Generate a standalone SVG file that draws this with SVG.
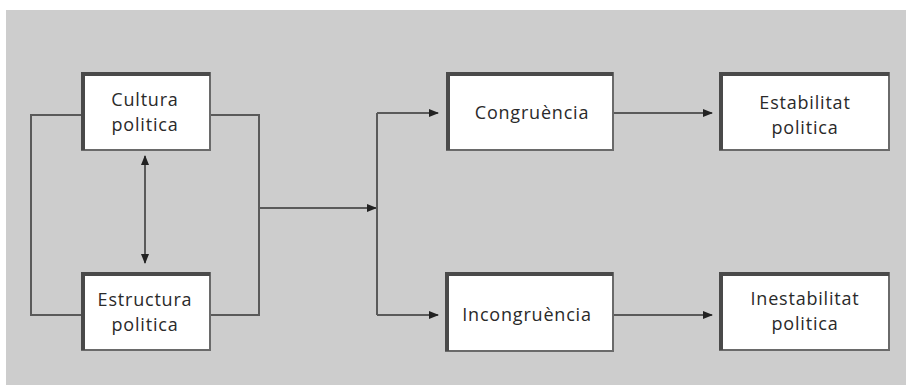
<svg xmlns="http://www.w3.org/2000/svg" width="906" height="385" viewBox="0 0 906 385">
<style>
.box{fill:#ffffff;stroke:#6a6a6a;stroke-width:2}
.edge{fill:none;stroke:#4a4a4a;stroke-width:4}
.t{font-family:"Open Sans","Noto Sans","Liberation Sans",sans-serif;font-size:18px;letter-spacing:0.8px;fill:#2a2a2a;text-anchor:middle}
.c{fill:none;stroke:#5a5a5a;stroke-width:2}
</style>
<defs>
<marker id="ah" viewBox="0 0 10 10" refX="9" refY="5" markerWidth="5" markerHeight="5" orient="auto-start-reverse" markerUnits="strokeWidth">
<path d="M0,1 L10,5 L0,9 z" fill="#222222"/>
</marker>
</defs>
<rect x="0" y="0" width="906" height="385" fill="#ffffff"/>
<rect x="6" y="10" width="900" height="375" fill="#cdcdcd"/>
<g id="connectors">
<path class="c" d="M82,115 H31 V315 H82"/>
<path class="c" d="M210,115 H259 V315 H210"/>
<path class="c" d="M259,208 H376" marker-end="url(#ah)"/>
<path class="c" d="M377,113 V315"/>
<path class="c" d="M377,113 H438" marker-end="url(#ah)"/>
<path class="c" d="M377,315 H438" marker-end="url(#ah)"/>
<path class="c" d="M145,156 V263" marker-start="url(#ah)" marker-end="url(#ah)"/>
<path class="c" d="M613,113 H712" marker-end="url(#ah)"/>
<path class="c" d="M613,315 H712" marker-end="url(#ah)"/>
</g>
<g id="cultura">
<rect class="box" x="82" y="73" width="128" height="77"/>
<path class="edge" d="M83,150 V74 H210"/>
<text class="t" x="145" y="106">Cultura</text>
<text class="t" x="145" y="130.5">politica</text>
</g>
<g id="estructura">
<rect class="box" x="82" y="273" width="128" height="77"/>
<path class="edge" d="M83,350 V274 H210"/>
<text class="t" x="145" y="306">Estructura</text>
<text class="t" x="145" y="330.5">politica</text>
</g>
<g id="congruencia">
<rect class="box" x="447" y="73" width="166" height="77"/>
<path class="edge" d="M448,150 V74 H613"/>
<text class="t" x="532" y="119">Congruència</text>
</g>
<g id="incongruencia">
<rect class="box" x="446" y="273" width="167" height="78"/>
<path class="edge" d="M447,351 V274 H613"/>
<text class="t" x="527" y="321">Incongruència</text>
</g>
<g id="estabilitat">
<rect class="box" x="720" y="73" width="169" height="77"/>
<path class="edge" d="M721,150 V74 H889"/>
<text class="t" x="805" y="109">Estabilitat</text>
<text class="t" x="805" y="133.5">politica</text>
</g>
<g id="inestabilitat">
<rect class="box" x="720" y="273" width="169" height="77"/>
<path class="edge" d="M721,350 V274 H889"/>
<text class="t" x="805" y="305">Inestabilitat</text>
<text class="t" x="805" y="329.5">politica</text>
</g>
</svg>
